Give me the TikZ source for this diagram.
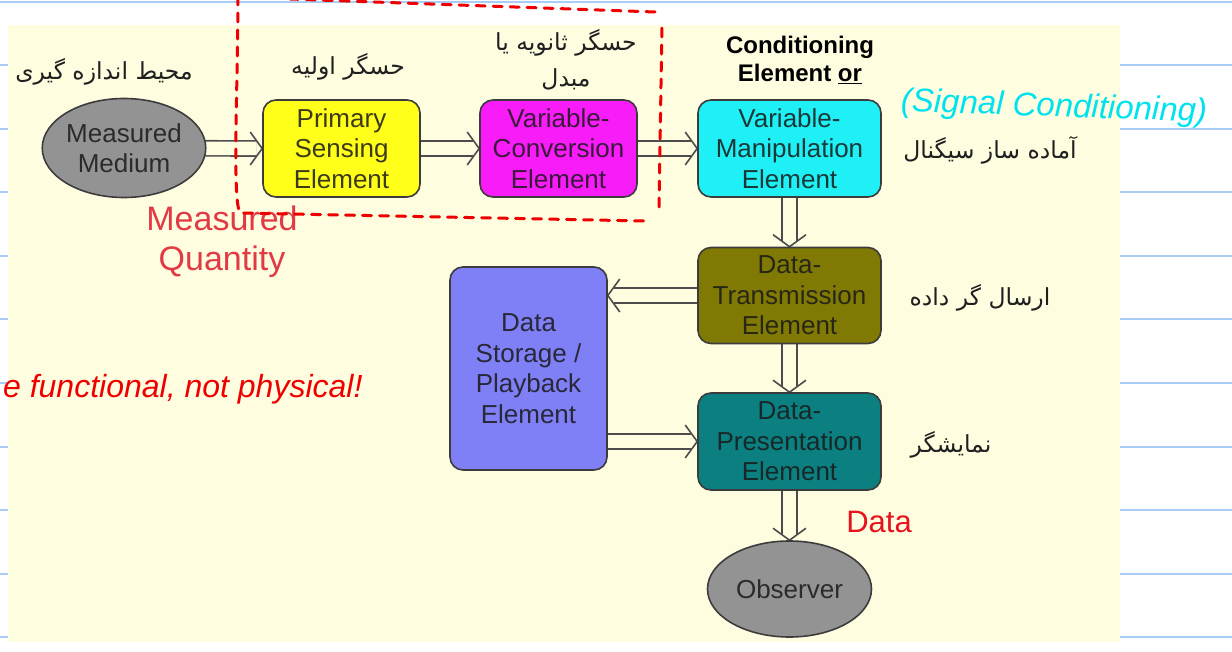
\documentclass[tikz,border=0pt]{standalone}
\usepackage{fontspec}
\setmainfont{Liberation Sans}
\newfontfamily\fa[Script=Arabic]{DejaVu Sans}
\TeXXeTstate=1
\usetikzlibrary{calc,shapes.geometric}
\pgfdeclarelayer{paper}
\pgfdeclarelayer{links}
\pgfsetlayers{paper,links,main}

\definecolor{cream}{HTML}{FFFDE0}
\definecolor{ruleblue}{HTML}{A9CDF6}
\definecolor{edge}{HTML}{3C3C3C}
\definecolor{linkgray}{HTML}{4C4C4C}
\definecolor{cGray}{HTML}{939393}
\definecolor{cPrim}{HTML}{FFFF1A}
\definecolor{cConv}{HTML}{F81CF8}
\definecolor{cManip}{HTML}{1EF0F5}
\definecolor{cTrans}{HTML}{807A04}
\definecolor{cPres}{HTML}{0C7F80}
\definecolor{cStor}{HTML}{7F80F6}
\definecolor{qred}{HTML}{E23A45}
\definecolor{dred}{HTML}{E8121E}
\definecolor{inkred}{HTML}{EE0000}
\definecolor{inkcyan}{HTML}{00E3EE}

\tikzset{
  blk/.style={draw=edge, line width=1.6pt, rounded corners=13pt, inner sep=0pt,
    align=center, text=black!90, text opacity=0.85,
    font=\fontsize{26}{30.5}\selectfont},
  oval/.style={ellipse, draw=edge, line width=1.6pt, fill=cGray, inner sep=0pt,
    align=center, text=black!90, text opacity=0.85,
    font=\fontsize{26}{30.5}\selectfont},
  flow/.style={draw=linkgray, line width=1.6pt, double=cream, double distance=13.5pt},
  chev/.style={draw=linkgray, line width=1.6pt, line join=miter},
  fatxt/.style={text=black!88, align=center, font=\fa\fontsize{23.5}{36}\selectfont},
  rule/.style={draw=ruleblue, line width=2pt},
  ink/.style={line width=3pt, draw=inkred, dash pattern=on 9pt off 8pt, line cap=round},
}

\begin{document}
\begin{tikzpicture}[x=1pt,y=-1pt]
\useasboundingbox (0,0) rectangle (1232,652);

% notebook page and slide background
\begin{pgfonlayer}{paper}
  \fill[white] (0,0) rectangle (1232,652);
  \draw[rule] (0,2) -- (1232,2);
  \foreach \k in {1,...,10} {
    \draw[rule] (0,{2+63.5*\k}) -- (9,{2+63.5*\k});
    \draw[rule] (1119,{2+63.5*\k}) -- (1232,{2+63.5*\k});
  }
  \fill[cream] (8,25) rectangle (1120,642);
\end{pgfonlayer}

% functional elements
\node[oval, minimum width=158pt, minimum height=99pt] (med) at (124,148) {Measured\\Medium};
\node[blk, fill=cPrim, minimum width=157pt, minimum height=97pt] (prim) at (341.5,148.5) {Primary\\Sensing\\Element};
\node[blk, fill=cConv, minimum width=157pt, minimum height=97pt] (conv) at (558.5,148.5) {Variable-\\Conversion\\Element};
\node[blk, fill=cManip, minimum width=183pt, minimum height=97pt] (manip) at (789.5,148.5) {Variable-\\Manipulation\\Element};
\node[blk, fill=cTrans, minimum width=183pt, minimum height=96pt] (trans) at (789.5,295.5) {Data-\\Transmission\\Element};
\node[blk, fill=cPres, minimum width=183pt, minimum height=97pt] (pres) at (789.5,441.5) {Data-\\Presentation\\Element};
\node[blk, fill=cStor, minimum width=157pt, minimum height=203pt] (stor) at (528.5,368.5) {Data\\Storage /\\Playback\\Element};
\node[oval, minimum width=164pt, minimum height=96pt] (obs) at (789.5,589) {Observer};

% hollow double-line connectors
\begin{pgfonlayer}{links}
  \draw[flow] (med.center) -- ([xshift=-6pt]prim.west);
  \draw[chev] ([xshift=-12pt,yshift=16.5pt]prim.west) -- (prim.west) -- ([xshift=-12pt,yshift=-16.5pt]prim.west);
  \draw[flow] (prim.center) -- ([xshift=-6pt]conv.west);
  \draw[chev] ([xshift=-12pt,yshift=16.5pt]conv.west) -- (conv.west) -- ([xshift=-12pt,yshift=-16.5pt]conv.west);
  \draw[flow] (conv.center) -- ([xshift=-6pt]manip.west);
  \draw[chev] ([xshift=-12pt,yshift=16.5pt]manip.west) -- (manip.west) -- ([xshift=-12pt,yshift=-16.5pt]manip.west);
  \draw[flow] (manip.center) -- ([yshift=6pt]trans.north);
  \draw[chev] ([xshift=-16.5pt,yshift=12pt]trans.north) -- (trans.north) -- ([xshift=16.5pt,yshift=12pt]trans.north);
  \draw[flow] (trans.center) -- ([yshift=6pt]pres.north);
  \draw[chev] ([xshift=-16.5pt,yshift=12pt]pres.north) -- (pres.north) -- ([xshift=16.5pt,yshift=12pt]pres.north);
  \draw[flow] (pres.center) -- ([yshift=6pt]obs.north);
  \draw[chev] ([xshift=-16.5pt,yshift=12pt]obs.north) -- (obs.north) -- ([xshift=16.5pt,yshift=12pt]obs.north);
  \coordinate (sin) at (stor.east |- trans.west);
  \draw[flow] (trans.center) -- ([xshift=6pt]sin);
  \draw[chev] ([xshift=12pt,yshift=16.5pt]sin) -- (sin) -- ([xshift=12pt,yshift=-16.5pt]sin);
  \coordinate (sout) at (stor.center |- pres.west);
  \draw[flow] (sout) -- ([xshift=-6pt]pres.west);
  \draw[chev] ([xshift=-12pt,yshift=16.5pt]pres.west) -- (pres.west) -- ([xshift=-12pt,yshift=-16.5pt]pres.west);
\end{pgfonlayer}

% labels
\node[fatxt] (lmed) at (104,72) {\beginR محیط اندازه گیری\endR};
\node[fatxt] (lprim) at (348,67) {\beginR حسگر اولیه\endR};
\node[fatxt] (lconv) at (566,60) {\beginR حسگر ثانویه یا\endR\\\beginR مبدل\endR};
\node[fatxt] (lmanip) at (990,150) {\beginR آماده ساز سیگنال\endR};
\node[fatxt] (ltrans) at (980,298) {\beginR ارسال گر داده\endR};
\node[fatxt] (lpres) at (951,445) {\beginR نمایشگر\endR};

\node[align=center, font=\bfseries\fontsize{24}{28}\selectfont] (cond) at (800,60) {Conditioning\\Element \underline{or}};

\node[align=center, text=qred, font=\fontsize{34}{40}\selectfont] (mq) at (222,242) {Measured\\Quantity};
\node[text=dred, font=\fontsize{31}{36}\selectfont] (dat) at (879,522) {Data};

% handwritten notes
\node[text=inkcyan, rotate=-2, font=\itshape\fontsize{33}{38}\selectfont] (sig) at (1054,108) {(Signal Conditioning)};
\node[text=inkred, anchor=base east, font=\itshape\fontsize{32}{38}\selectfont] (note) at (366,397) {e functional, not physical!};

% hand-drawn dashed frame round the sensing stages
\draw[ink] (238,-4) .. controls (238,80) and (232,200) .. (240,213)
  -- (645,221);
\draw[ink] (659,207) -- (662,24);
\draw[ink] (655,12) -- (290,-1);
\end{tikzpicture}
\end{document}
